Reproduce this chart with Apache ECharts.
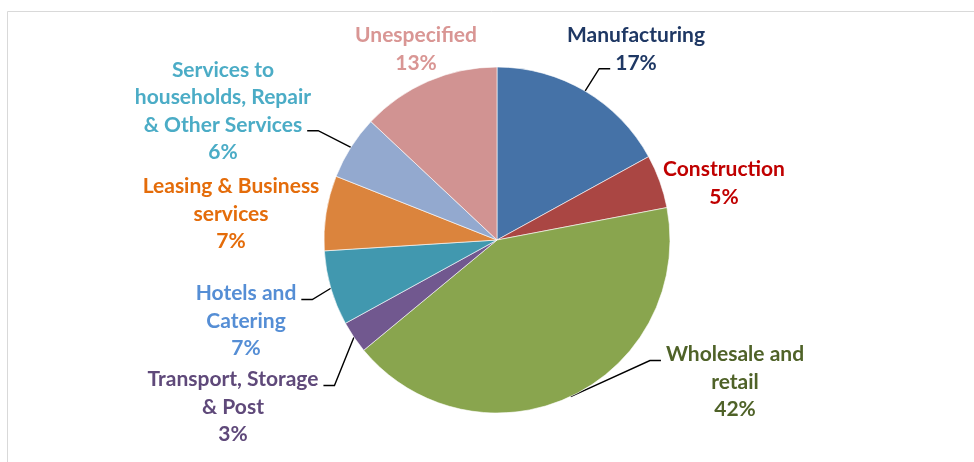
<!DOCTYPE html>
<html>
<head>
<meta charset="utf-8">
<script src="https://cdn.jsdelivr.net/npm/echarts@6/dist/echarts.min.js"></script>
<style>
  html, body { margin: 0; padding: 0; background: #fff; }
  #chart { width: 974px; height: 462px; }
</style>
</head>
<body>
<div id="chart"></div>
<script>
// sectors, clockwise from 12 o'clock
const sectors = [
    'Manufacturing',
    'Construction',
    'Wholesale and\nretail',
    'Transport, Storage\n& Post',
    'Hotels and\nCatering',
    'Leasing & Business\nservices',
    'Services to\nhouseholds, Repair\n& Other Services',
    'Unespecified'
];
const shares = [17, 5, 42, 3, 7, 7, 6, 13];

const sliceColors = ['#4572A7', '#AA4643', '#89A54E', '#71588F', '#4198AF', '#DB843D', '#93A9CF', '#D19392'];
const textColors = ['#1F3864', '#C00000', '#4F6228', '#5F497A', '#558ED5', '#E46C0A', '#4BACC6', '#D99694'];
// which text row the leader line reaches (null = no leader)
const leaderRows = [1, null, 0, 0, 0, null, 2, null];

// where each label block sits (centre of text block)
const labelSpots = [
    [636, 49], [724, 183], [735, 382], [233, 407],
    [246, 321], [231, 214], [223, 111], [416, 49]
];

const FONT_SIZE = 21;
const LINE_H = 27.5;

const chart = echarts.init(document.getElementById('chart'));

const frame = {
    type: 'rect',
    shape: { x: 7.5, y: 11.5, width: 1000, height: 500 },
    style: { fill: 'none', stroke: '#d9d9d9', lineWidth: 1 }
};

const option = {
    backgroundColor: '#fff',
    animation: false,
    graphic: [frame],
    series: [
        {
            type: 'pie',
            center: [497, 240],
            radius: [0, 173],
            startAngle: 90,
            clockwise: true,
            avoidLabelOverlap: false,
            itemStyle: { borderColor: '#fff', borderWidth: 0.6 },
            label: {
                show: true,
                position: 'outside',
                fontFamily: 'Lato',
                fontWeight: 'bold',
                fontSize: FONT_SIZE,
                lineHeight: LINE_H,
                align: 'center',
                formatter: p => p.name + '\n' + Math.round(p.percent) + '%'
            },
            labelLine: { show: false },
            labelLayout: p => ({
                x: labelSpots[p.dataIndex][0],
                y: labelSpots[p.dataIndex][1],
                align: 'center',
                verticalAlign: 'middle'
            }),
            emphasis: { disabled: true },
            data: sectors.map((name, i) => ({
                name: name,
                value: shares[i],
                itemStyle: { color: sliceColors[i] },
                label: { color: textColors[i] }
            }))
        }
    ]
};

chart.setOption(option);

// leader lines: from the middle of each slice's rim to the chosen text row
const pieData = chart.getModel().getSeriesByIndex(0).getData();
const ctx = document.createElement('canvas').getContext('2d');
ctx.font = 'bold ' + FONT_SIZE + 'px Lato';
const total = shares.reduce((a, b) => a + b, 0);
const leaders = [];
sectors.forEach((name, i) => {
    const row = leaderRows[i];
    if (row == null) return;
    const lay = pieData.getItemLayout(i);
    const mid = (lay.startAngle + lay.endAngle) / 2;
    const sx = lay.cx + lay.r * Math.cos(mid);
    const sy = lay.cy + lay.r * Math.sin(mid);
    const rows = (name + '\n' + Math.round(shares[i] / total * 100) + '%').split('\n');
    const w = ctx.measureText(rows[row]).width;
    const lx = labelSpots[i][0];
    const ly = labelSpots[i][1];
    const rowY = ly + (row - (rows.length - 1) / 2) * LINE_H + 6;
    const leftOfSlice = sx > lx;
    const ex = leftOfSlice ? lx + w / 2 + 5 : lx - w / 2 - 5;
    const bx = leftOfSlice ? ex + 11 : ex - 11;
    leaders.push({
        type: 'polyline',
        shape: { points: [[sx, sy], [bx, rowY], [ex, rowY]] },
        style: { stroke: '#000', lineWidth: 1.4, fill: null }
    });
});
chart.setOption({ graphic: [frame].concat(leaders) });
</script>
</body>
</html>
